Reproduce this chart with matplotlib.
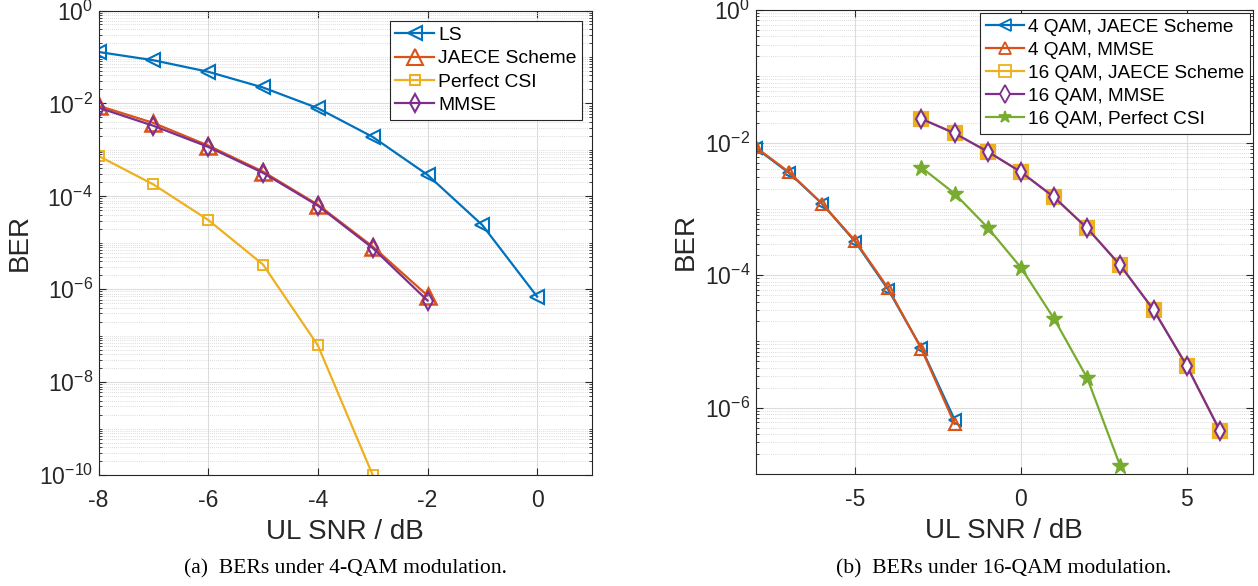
import numpy as np
import matplotlib
matplotlib.use("Agg")
import matplotlib.pyplot as plt
from matplotlib.ticker import FixedLocator, NullFormatter

plt.rcParams['font.family'] = ['Liberation Sans', 'DejaVu Sans']
plt.rcParams['mathtext.fontset'] = 'custom'
plt.rcParams['mathtext.rm'] = 'Liberation Sans'
plt.rcParams['mathtext.it'] = 'Liberation Sans'

# ---- (a) 4-QAM ----
snr_a = [-8, -7, -6, -5, -4, -3, -2, -1, 0]
ber_ls = [0.128, 0.085, 0.048, 0.022, 0.0079, 0.0019, 2.9e-4, 2.4e-5, 6.9e-7]
snr_a2 = [-8, -7, -6, -5, -4, -3, -2]
ber_jaece_a = [0.0089, 0.0038, 0.00124, 3.4e-4, 6.6e-5, 8.3e-6, 7.3e-7]
ber_mmse_a = [0.0081, 0.0033, 0.00116, 3.2e-4, 6.3e-5, 7.7e-6, 5.7e-7]
snr_a3 = [-8, -7, -6, -5, -4, -3]
ber_pcsi_a = [7.4e-4, 1.8e-4, 3.1e-5, 3.4e-6, 6.2e-8, 1.0e-10]

# ---- (b) 16-QAM ----
snr_b4 = [-8, -7, -6, -5, -4, -3, -2]
ber_4qam_jaece = [0.0083, 0.0035, 0.0012, 3.2e-4, 6.0e-5, 7.9e-6, 6.6e-7]
ber_4qam_mmse = [0.0085, 0.0036, 0.0012, 3.3e-4, 6.3e-5, 7.7e-6, 5.7e-7]
snr_b16 = [-3, -2, -1, 0, 1, 2, 3, 4, 5, 6]
ber_16qam_jaece = [0.0228, 0.0138, 0.0073, 0.0036, 0.0015, 5.1e-4, 1.4e-4, 3.0e-5, 4.3e-6, 4.5e-7]
ber_16qam_mmse = [0.0228, 0.0138, 0.0073, 0.0036, 0.0015, 5.1e-4, 1.4e-4, 3.0e-5, 4.3e-6, 4.5e-7]
snr_b16p = [-3, -2, -1, 0, 1, 2, 3]
ber_16qam_pcsi = [0.0042, 0.0017, 5.2e-4, 1.3e-4, 2.2e-5, 2.8e-6, 1.3e-7]

C_BLUE = '#0072BD'
C_ORANGE = '#D95319'
C_YELLOW = '#EDB120'
C_PURPLE = '#7E2F8E'
C_GREEN = '#77AC30'
C_AXIS = '#262626'

W, H = 1258, 586
fig = plt.figure(figsize=(W / 100, H / 100), dpi=100)

ax1 = fig.add_axes([98.5 / W, 1 - 475 / H, 493.5 / W, 464.5 / H])
ax2 = fig.add_axes([755.7 / W, 1 - 474 / H, 497.3 / W, 464 / H])


def style_axes(ax, ymin_exp, xticks, xlim):
    ax.set_yscale('log')
    ax.set_xlim(*xlim)
    ax.set_ylim(10.0 ** ymin_exp, 1.0)
    major_exps = list(range(0, ymin_exp - 1, -2))
    ax.yaxis.set_major_locator(FixedLocator([10.0 ** e for e in major_exps]))
    ax.set_yticklabels([r'$10^{%d}$' % e for e in major_exps])
    minors = [m * 10.0 ** e for e in range(ymin_exp, 0) for m in range(1, 10)
              if not (m == 1 and e in major_exps)]
    ax.yaxis.set_minor_locator(FixedLocator(minors))
    ax.yaxis.set_minor_formatter(NullFormatter())
    ax.set_xticks(xticks)
    ax.set_xticklabels([str(t) for t in xticks])
    ax.grid(True, which='major', color='#dcdcdc', linewidth=0.8, linestyle='-')
    ax.grid(True, which='minor', axis='y', color='#d0d0d0', linewidth=0.6, linestyle=(0, (1, 1.5)))
    ax.set_axisbelow(True)
    ax.tick_params(which='both', direction='in', top=True, right=True, labelsize=16.5, colors=C_AXIS)
    ax.tick_params(which='major', length=5, width=0.8)
    ax.tick_params(which='minor', length=2.5, width=0.6)
    ax.tick_params(axis='x', pad=10)
    ax.tick_params(axis='y', pad=4)
    for sp in ax.spines.values():
        sp.set_color(C_AXIS)
        sp.set_linewidth(0.8)
    ax.set_xlabel('UL SNR / dB', fontsize=20, color=C_AXIS, labelpad=5)
    ax.set_ylabel('BER', fontsize=20, color=C_AXIS, labelpad=4)


style_axes(ax1, -10, [-8, -6, -4, -2, 0], (-8, 1))
style_axes(ax2, -7, [-5, 0, 5], (-8, 7))

lw = 1.6
ax1.plot(snr_a, ber_ls, color=C_BLUE, lw=lw, marker='<', ms=10, mfc='none', mew=1.5, label='LS')
ax1.plot(snr_a2, ber_jaece_a, color=C_ORANGE, lw=lw, marker='^', ms=12, mfc='none', mew=1.8, label='JAECE Scheme')
ax1.plot(snr_a3, ber_pcsi_a, color=C_YELLOW, lw=lw, marker='s', ms=7, mfc='none', mew=1.4, label='Perfect CSI')
ax1.plot(snr_a2, ber_mmse_a, color=C_PURPLE, lw=lw, marker='d', ms=9, mfc='none', mew=1.5, label='MMSE')

ax2.plot(snr_b4, ber_4qam_jaece, color=C_BLUE, lw=lw, marker='<', ms=9, mfc='none', mew=1.5,
         label='4 QAM, JAECE Scheme')
ax2.plot(snr_b4, ber_4qam_mmse, color=C_ORANGE, lw=lw, marker='^', ms=9, mfc='none', mew=1.5,
         label='4 QAM, MMSE')
ax2.plot(snr_b16, ber_16qam_jaece, color=C_YELLOW, lw=lw, marker='s', ms=9, mfc='none', mew=3.0,
         label='16 QAM, JAECE Scheme')
ax2.plot(snr_b16, ber_16qam_mmse, color=C_PURPLE, lw=lw, marker='d', ms=9, mfc='white', mew=1.5,
         label='16 QAM, MMSE')
ax2.plot(snr_b16p, ber_16qam_pcsi, color=C_GREEN, lw=lw, marker='*', ms=12, mfc=C_GREEN, mew=1.0,
         label='16 QAM, Perfect CSI')

leg_kw = dict(fancybox=False, framealpha=1, edgecolor=C_AXIS, borderpad=0.3,
              labelspacing=0.3, handlelength=2.0, handletextpad=0.2, borderaxespad=0)
leg1 = ax1.legend(loc='upper right', bbox_to_anchor=(0.98, 0.978), fontsize=13.9, **leg_kw)
leg2 = ax2.legend(loc='upper right', bbox_to_anchor=(0.993, 0.994), fontsize=13.7, **leg_kw)
for leg in (leg1, leg2):
    leg.get_frame().set_linewidth(0.8)
for h in leg1.legend_handles:
    h.set_markeredgewidth(1.5)
for h in leg2.legend_handles:
    h.set_markersize(min(h.get_markersize(), 9))
    h.set_markeredgewidth(1.3)

cap_kw = dict(fontsize=15.6, family=['Liberation Serif', 'DejaVu Serif'], ha='center', va='center', color='black')
fig.text(345 / W, 1 - 569 / H, '(a)  BERs under 4-QAM modulation.', **cap_kw)
fig.text(1004 / W, 1 - 569 / H, '(b)  BERs under 16-QAM modulation.', **cap_kw)

fig.savefig('out.png', dpi=100)
